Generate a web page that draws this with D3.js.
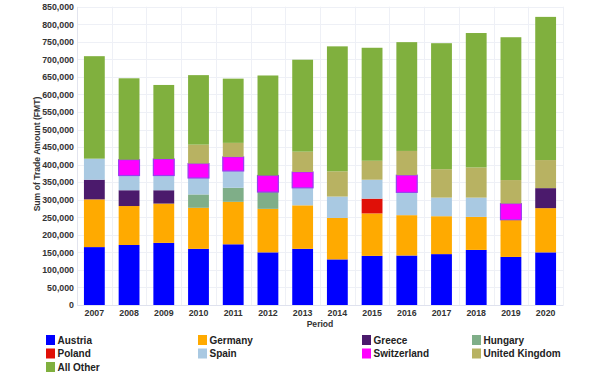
<!DOCTYPE html>
<html>
<head>
<meta charset="utf-8">
<script src="https://cdn.jsdelivr.net/npm/d3@7"></script>
<style>
  body { margin: 0; background: #fff; }
  svg { font-family: "Liberation Sans", Arial, sans-serif; }
</style>
</head>
<body>
<div id="chart"></div>
<script>
// years on the x axis
var years = ["2007","2008","2009","2010","2011","2012","2013","2014","2015","2016","2017","2018","2019","2020"];

// series, in stack order (bottom to top)
var seriesNames = ["Austria","Germany","Greece","Hungary","Poland","Spain","Switzerland","United Kingdom","All Other"];
var seriesColors = ["#0000ff","#ffaa00","#4b1a6c","#7fae88","#e01008","#a9c9e2","#ff00ff","#b8b262","#80b03e"];

var austria     = [165000,171000,177000,160000,173000,150000,160000,130000,140000,141000,145000,157000,137000,150000];
var germany     = [136000,111000,112000,117000,121000,124000,124000,118000,121000,115000,108000, 94000,106000,126000];
var greece      = [ 56000, 45000, 38000,     0,     0,     0,     0,     0,     0,     0,     0,     0,     0, 57000];
var hungary     = [     0,     0,     0, 38000, 40000, 48000,     0,     0,     0,     0,     0,     0,     0,     0];
var poland      = [     0,     0,     0,     0,     0,     0,     0,     0, 42000,     0,     0,     0,     0,     0];
var spain       = [ 60000, 42000, 42000, 47000, 48000,     0, 50000, 61000, 54000, 65000, 53000, 55000,     0,     0];
var switzerland = [     0, 45000, 47000, 41000, 40000, 47000, 45000,     0,     0, 49000,     0,     0, 46000,     0];
var uk          = [     0,     0,     0, 54000, 40000,     0, 58000, 72000, 54000, 69000, 81000, 86000, 67000, 80000];
var allOther    = [292000,232000,211000,198000,183000,285000,262000,356000,322000,310000,359000,383000,407000,408000];

var yTicks = d3.range(0, 850001, 50000);

var seriesValues = [austria, germany, greece, hungary, poland, spain, switzerland, uk, allOther];

function init() {
	var w = 600;
	var h = 375;

	var left = 77, right = 563, top = 6.7, bottom = 305;

	// build rows for d3.stack
	var rows = years.map(function(y, i) {
		var r = { year: y };
		seriesNames.forEach(function(n, j) { r[n] = seriesValues[j][i]; });
		return r;
	});

	var stacked = d3.stack().keys(seriesNames)(rows);

	var xScale = d3.scaleBand()
		.domain(years)
		.range([left, right])
		.paddingInner(0.4)
		.paddingOuter(0.2);

	var yScale = d3.scaleLinear()
		.domain([0, 850000])
		.range([bottom, top]);

	var color = d3.scaleOrdinal().domain(seriesNames).range(seriesColors);

	var svg = d3.select("#chart")
		.append("svg")
		.attr("width", w)
		.attr("height", h);

	// horizontal grid
	svg.append("g")
		.selectAll("line")
		.data(yTicks)
		.enter()
		.append("line")
		.attr("x1", left)
		.attr("x2", right)
		.attr("y1", function(d) { return Math.round(yScale(d)) + 0.5; })
		.attr("y2", function(d) { return Math.round(yScale(d)) + 0.5; })
		.attr("stroke", "#eef0f6");

	// vertical grid at band edges
	var step = xScale.step();
	svg.append("g")
		.selectAll("line")
		.data(d3.range(years.length + 1))
		.enter()
		.append("line")
		.attr("x1", function(i) { return Math.round(left + i * step) + 0.5; })
		.attr("x2", function(i) { return Math.round(left + i * step) + 0.5; })
		.attr("y1", top)
		.attr("y2", bottom)
		.attr("stroke", "#eef0f6");

	// bars
	svg.append("g")
		.selectAll("g")
		.data(stacked)
		.enter()
		.append("g")
		.attr("fill", function(d) { return color(d.key); })
		.attr("stroke", function(d) { return d.key === "Switzerland" ? "#9a3cf0" : "none"; })
		.attr("stroke-width", 1.2)
		.selectAll("rect")
		.data(function(d) { return d.filter(function(s) { return s[1] - s[0] > 0; }); })
		.enter()
		.append("rect")
		.attr("x", function(d) { return xScale(d.data.year); })
		.attr("y", function(d) { return yScale(d[1]); })
		.attr("width", xScale.bandwidth())
		.attr("height", function(d) { return yScale(d[0]) - yScale(d[1]); });

	// axes
	var yAxis = d3.axisLeft(yScale)
		.tickValues(yTicks)
		.tickSize(0)
		.tickPadding(3)
		.tickFormat(function(d) { return d === 0 ? "0" : d3.format(",")(d); });

	var gy = svg.append("g")
		.attr("transform", "translate(" + left + ",0)")
		.call(yAxis);
	gy.select(".domain").attr("stroke", "#e2e4ee");

	var xAxis = d3.axisBottom(xScale).tickSize(0).tickPadding(5);
	var gx = svg.append("g")
		.attr("transform", "translate(0," + bottom + ")")
		.call(xAxis);
	gx.select(".domain").attr("stroke", "#dfe2ee");

	svg.selectAll(".tick text")
		.attr("font-family", "Liberation Sans, Arial, sans-serif")
		.attr("font-size", "8.8px")
		.attr("font-weight", "bold")
		.attr("fill", "#333");

	// axis titles
	svg.append("text")
		.attr("x", (left + right) / 2)
		.attr("y", 327)
		.attr("text-anchor", "middle")
		.attr("font-size", "8.6px")
		.attr("font-weight", "bold")
		.attr("fill", "#333")
		.text("Period");

	svg.append("text")
		.attr("transform", "translate(40,154) rotate(-90)")
		.attr("text-anchor", "middle")
		.attr("font-size", "8.6px")
		.attr("font-weight", "bold")
		.attr("fill", "#333")
		.text("Sum of Trade Amount (FMT)");

	// legend, 4 columns
	var colX = [46, 198, 362, 472];
	var rowY = [340, 353.5, 367];

	var legend = svg.append("g")
		.selectAll("g")
		.data(seriesNames)
		.enter()
		.append("g")
		.attr("transform", function(d, i) {
			return "translate(" + colX[i % 4] + "," + rowY[Math.floor(i / 4)] + ")";
		});

	legend.append("rect")
		.attr("x", 0)
		.attr("y", -5)
		.attr("width", 9)
		.attr("height", 10)
		.attr("fill", function(d) { return color(d); });

	legend.append("text")
		.attr("x", 11.5)
		.attr("y", 0)
		.attr("dy", "0.35em")
		.attr("font-size", "10px")
		.attr("font-weight", "bold")
		.attr("fill", "#222")
		.text(function(d) { return d; });
}

window.onload = init;
</script>
</body>
</html>
